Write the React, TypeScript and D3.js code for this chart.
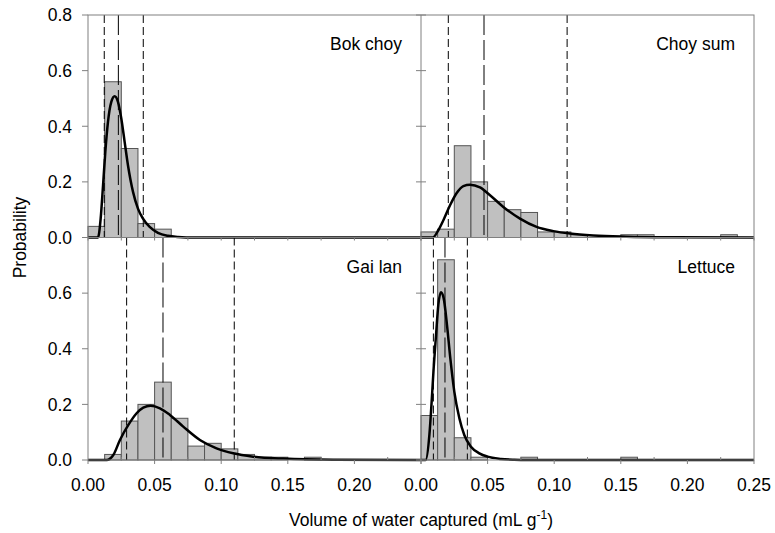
import * as d3 from 'd3';
import React from 'react';

// bins are 0.0125 mL/g wide, starting at 0
const binWidth = 0.0125;

const bokChoyBins = [0.04, 0.56, 0.32, 0.05, 0.03, 0, 0, 0, 0, 0, 0, 0, 0, 0, 0, 0, 0, 0, 0, 0];
const choySumBins = [0.02, 0.03, 0.33, 0.2, 0.13, 0.1, 0.09, 0.02, 0.02, 0.01, 0, 0, 0.01, 0.01, 0, 0, 0, 0, 0.01, 0];
const gaiLanBins = [0, 0.02, 0.14, 0.2, 0.28, 0.15, 0.05, 0.06, 0.04, 0.02, 0.01, 0.01, 0, 0.01, 0, 0, 0, 0, 0, 0];
const lettuceBins = [0.16, 0.72, 0.08, 0.01, 0, 0, 0.01, 0, 0, 0, 0, 0, 0.01, 0, 0, 0, 0, 0, 0, 0];

// fitted curves as [x, probability]
const bokChoyCurve = [
  [0, 0], [0.0075, 0], [0.0095, 0.068], [0.0113, 0.188], [0.013, 0.308], [0.015, 0.416],
  [0.0175, 0.488], [0.02, 0.508], [0.0225, 0.488], [0.025, 0.428], [0.0275, 0.344],
  [0.03, 0.26], [0.0338, 0.164], [0.0375, 0.104], [0.0413, 0.068], [0.0463, 0.038],
  [0.0525, 0.017], [0.06, 0.006], [0.0675, 0.002], [0.08, 0], [0.25, 0],
];
const choySumCurve = [
  [0, 0], [0.0088, 0], [0.013, 0.026], [0.0168, 0.062], [0.0218, 0.116], [0.0268, 0.16],
  [0.0318, 0.185], [0.0368, 0.19], [0.0443, 0.18], [0.0518, 0.152], [0.0618, 0.11],
  [0.0743, 0.068], [0.0868, 0.038], [0.0993, 0.023], [0.1118, 0.014], [0.1293, 0.007],
  [0.154, 0.003], [0.19, 0.001], [0.25, 0],
];
const gaiLanCurve = [
  [0, 0], [0.014, 0], [0.019, 0.018], [0.024, 0.072], [0.0303, 0.126], [0.0365, 0.168],
  [0.0415, 0.188], [0.047, 0.195], [0.054, 0.186], [0.0615, 0.162], [0.0715, 0.12],
  [0.084, 0.072], [0.0965, 0.042], [0.109, 0.024], [0.124, 0.012], [0.1465, 0.005],
  [0.184, 0.001], [0.25, 0],
];
const lettuceCurve = [
  [0, 0], [0.0035, 0], [0.0063, 0.09], [0.008, 0.21], [0.0095, 0.33], [0.0113, 0.45],
  [0.013, 0.558], [0.015, 0.603], [0.017, 0.582], [0.0195, 0.486], [0.022, 0.366],
  [0.025, 0.246], [0.0288, 0.15], [0.0325, 0.09], [0.0375, 0.048], [0.0438, 0.024],
  [0.05, 0.012], [0.06, 0.004], [0.07, 0.001], [0.08, 0], [0.25, 0],
];

// [lower, centre, upper] reference lines
const bokChoyLines = [0.0122, 0.0228, 0.0415];
const choySumLines = [0.0205, 0.0473, 0.1097];
const gaiLanLines = [0.029, 0.0563, 0.1098];
const lettuceLines = [0.0093, 0.018, 0.0348];

const cropNames = ['Bok choy', 'Choy sum', 'Gai lan', 'Lettuce'];
const xTicks = [0, 0.05, 0.1, 0.15, 0.2, 0.25];
const xMinorTicks = [0.025, 0.075, 0.125, 0.175, 0.225];
const yTicks = [0, 0.2, 0.4, 0.6, 0.8];

const width = 775;
const height = 533;
const left = 88;
const top = 15;
const panelW = 333;
const panelH = 222.5;
const font = 'Arial, "Liberation Sans", sans-serif';
const fs = 17.5;

const panels = [
  { name: cropNames[0], col: 0, row: 0, bins: bokChoyBins, curve: bokChoyCurve, lines: bokChoyLines },
  { name: cropNames[1], col: 1, row: 0, bins: choySumBins, curve: choySumCurve, lines: choySumLines },
  { name: cropNames[2], col: 0, row: 1, bins: gaiLanBins, curve: gaiLanCurve, lines: gaiLanLines },
  { name: cropNames[3], col: 1, row: 1, bins: lettuceBins, curve: lettuceCurve, lines: lettuceLines },
];

function Panel({ p }) {
  const x0 = left + p.col * panelW;
  const y0 = top + p.row * panelH;
  const x = d3.scaleLinear().domain([0, 0.25]).range([x0, x0 + panelW]);
  const y = d3.scaleLinear().domain([0, 0.8]).range([y0 + panelH, y0]);
  const line = d3
    .line()
    .x((d) => x(d[0]))
    .y((d) => y(d[1]))
    .curve(d3.curveMonotoneX);

  return (
    <g>
      {p.bins.map((v, i) =>
        v > 0 ? (
          <rect
            key={i}
            x={x(i * binWidth)}
            y={y(v)}
            width={x((i + 1) * binWidth) - x(i * binWidth)}
            height={y(0) - y(v)}
            fill="#c0c0c0"
            stroke="#555"
            strokeWidth={1}
          />
        ) : null
      )}
      {p.lines.map((v, i) => (
        <line
          key={i}
          x1={x(v)}
          x2={x(v)}
          y1={y0}
          y2={y0 + panelH}
          stroke="#000"
          strokeWidth={1}
          strokeDasharray={i === 1 ? '20,5' : '8,4'}
        />
      ))}
      <path d={line(p.curve)} fill="none" stroke="#000" strokeWidth={2.5} />
      <text
        x={x0 + panelW - 19}
        y={y0 + 35}
        textAnchor="end"
        fontSize={fs}
        fontFamily={font}
      >
        {p.name}
      </text>
    </g>
  );
}

export default function App() {
  const yTop = d3.scaleLinear().domain([0, 0.8]).range([top + panelH, top]);
  const yBot = d3.scaleLinear().domain([0, 0.8]).range([top + 2 * panelH, top + panelH]);
  const xLeft = d3.scaleLinear().domain([0, 0.25]).range([left, left + panelW]);
  const xRight = d3.scaleLinear().domain([0, 0.25]).range([left + panelW, left + 2 * panelW]);
  const fmtX = d3.format('.2f');
  const fmtY = d3.format('.1f');
  const bottom = top + 2 * panelH;
  const mid = top + panelH;
  const right = left + 2 * panelW;

  return (
    <svg
      width={width}
      height={height}
      style={{ position: 'absolute', left: 0, top: 0, background: '#fff' }}
    >
      <rect x={0} y={0} width={width} height={height} fill="#fff" />
      {panels.map((p) => (
        <Panel key={p.name} p={p} />
      ))}

      {/* frames */}
      <rect x={left} y={top} width={2 * panelW} height={2 * panelH} fill="none" stroke="#808080" />
      <line x1={left + panelW} x2={left + panelW} y1={top} y2={bottom} stroke="#808080" />
      <line x1={left} x2={right} y1={mid} y2={mid} stroke="#808080" />

      {/* y axis ticks + labels */}
      {[yTop, yBot].map((y, r) =>
        yTicks.map((t) => (
          <g key={`${r}-${t}`}>
            <line x1={left - 6} x2={left} y1={y(t)} y2={y(t)} stroke="#808080" />
            <line x1={left + panelW - 5} x2={left + panelW + 5} y1={y(t)} y2={y(t)} stroke="#808080" />
            {r === 1 && t === 0.8 ? null : (
              <text
                x={left - 16}
                y={y(t)}
                dy="0.36em"
                textAnchor="end"
                fontSize={fs}
                fontFamily={font}
              >
                {fmtY(t)}
              </text>
            )}
          </g>
        ))
      )}

      {/* x axis ticks */}
      {[xLeft, xRight].map((x, c) => (
        <g key={c}>
          {xTicks.map((t) => (
            <g key={t}>
              <line x1={x(t)} x2={x(t)} y1={bottom} y2={bottom + 4} stroke="#808080" />
              <line x1={x(t)} x2={x(t)} y1={mid} y2={mid + 3} stroke="#808080" />
              {c === 1 || t < 0.25 ? (
                <text
                  x={x(t)}
                  y={bottom + 31}
                  textAnchor="middle"
                  fontSize={fs}
                  fontFamily={font}
                >
                  {fmtX(t)}
                </text>
              ) : null}
            </g>
          ))}
          {xMinorTicks.map((t) => (
            <g key={t}>
              <line x1={x(t)} x2={x(t)} y1={bottom} y2={bottom - 3} stroke="#808080" />
              <line x1={x(t)} x2={x(t)} y1={mid} y2={mid + 3} stroke="#808080" />
            </g>
          ))}
        </g>
      ))}

      {/* axis titles */}
      <text
        transform={`translate(26, ${mid}) rotate(-90)`}
        textAnchor="middle"
        fontSize={fs}
        fontFamily={font}
      >
        Probability
      </text>
      <text x={left + panelW} y={526} textAnchor="middle" fontSize={fs} fontFamily={font}>
        Volume of water captured (mL g
        <tspan dy={-7} fontSize={12}>
          -1
        </tspan>
        <tspan dy={7}>)</tspan>
      </text>
    </svg>
  );
}
